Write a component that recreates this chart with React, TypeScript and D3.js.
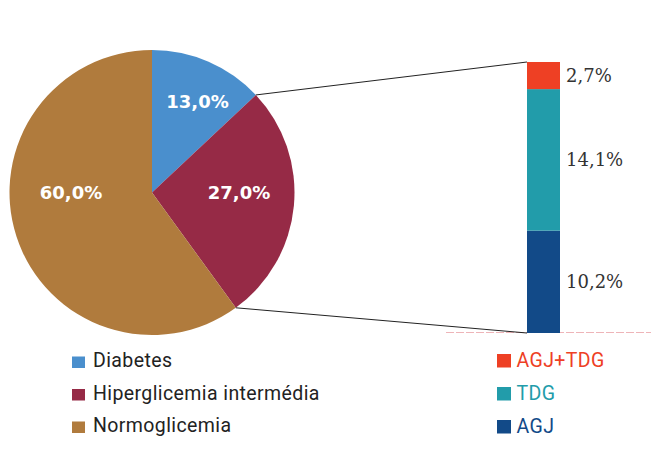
import React from "react";
import * as d3 from "d3";

const pieCategories = ["Diabetes", "Hiperglicemia intermédia", "Normoglicemia"];
const pieValues = [13.0, 27.0, 60.0];
const pieColors = ["#4a8fcd", "#962a46", "#b07b3d"];

const barCategories = ["AGJ", "TDG", "AGJ+TDG"];
const barValues = [10.2, 14.1, 2.7];
const barColors = ["#124a88", "#229caa", "#ee4024"];

const fmt = (v: number) => v.toFixed(1).replace(".", ",") + "%";

export default function App() {
  const W = 661, H = 455;
  const cx = 152, cy = 192.5, r = 142.5;

  const pie = d3.pie<number>().sort(null).value((d) => d)(pieValues);
  const arc = d3.arc<d3.PieArcDatum<number>>().innerRadius(0).outerRadius(r);

  const barX = 527, barW = 33, barTop = 62, barBottom = 333;
  const total = d3.sum(barValues);
  const y = d3.scaleLinear().domain([0, total]).range([barBottom, barTop]);
  const stacks: { v: number; y0: number; y1: number; c: string }[] = [];
  let acc = 0;
  barValues.forEach((v, i) => {
    stacks.push({ v, y0: acc, y1: acc + v, c: barColors[i] });
    acc += v;
  });

  const a1 = pie[1].startAngle;
  const a2 = pie[1].endAngle;
  const p1 = [cx + r * Math.sin(a1), cy - r * Math.cos(a1)];
  const p2 = [cx + r * Math.sin(a2), cy - r * Math.cos(a2)];

  const labelPos: [number, number][] = [
    [197.5, 108.3],
    [239, 199.3],
    [71, 199.3],
  ];

  const rightLegend = [...barCategories].reverse();
  const rightColors = [...barColors].reverse();

  return (
    <svg width={W} height={H} style={{ position: "absolute", left: 0, top: 0 }}>
      <rect width={W} height={H} fill="#fff" />
      <line x1={446} x2={651} y1={332.5} y2={332.5} stroke="#eeb4b8" strokeWidth={1} strokeDasharray="8,2" />
      <g transform={`translate(${cx},${cy})`}>
        {pie.map((d, i) => (
          <path key={i} d={arc(d) || ""} fill={pieColors[i]} />
        ))}
      </g>
      {pie.map((d, i) => (
        <text
          key={i}
          x={labelPos[i][0]}
          y={labelPos[i][1]}
          textAnchor="middle"
          fill="#fff"
          fontFamily="DejaVu Sans"
          fontWeight="bold"
          fontSize={18}
        >
          {fmt(pieValues[i])}
        </text>
      ))}
      <line x1={p1[0]} y1={p1[1]} x2={barX} y2={barTop} stroke="#222" strokeWidth={1} />
      <line x1={p2[0]} y1={p2[1]} x2={barX} y2={barBottom} stroke="#222" strokeWidth={1} />
      {stacks.map((s, i) => (
        <rect key={i} x={barX} width={barW} y={y(s.y1)} height={y(s.y0) - y(s.y1)} fill={s.c} />
      ))}
      {stacks.map((s, i) => (
        <text
          key={i}
          x={566}
          y={(y(s.y0) + y(s.y1)) / 2 + 6.5}
          fill="#333"
          fontFamily="DejaVu Serif"
          fontSize={18}
          fontWeight={300}
        >
          {fmt(s.v)}
        </text>
      ))}
      {pieCategories.map((c, i) => (
        <g key={c} transform={`translate(72,${356.5 + i * 32.5})`}>
          <rect width={13} height={11.5} fill={pieColors[i]} />
          <text x={21} y={10.5} fontFamily="Roboto" fontSize={19.5} letterSpacing={0.4} fill="#222">
            {c}
          </text>
        </g>
      ))}
      {rightLegend.map((c, i) => (
        <g key={c} transform={`translate(497,${354 + i * 33})`}>
          <rect width={14} height={13.5} fill={rightColors[i]} />
          <text x={19.5} y={13} fontFamily="Roboto" fontSize={19.5} letterSpacing={0.4} fill={rightColors[i]}>
            {c}
          </text>
        </g>
      ))}
    </svg>
  );
}
